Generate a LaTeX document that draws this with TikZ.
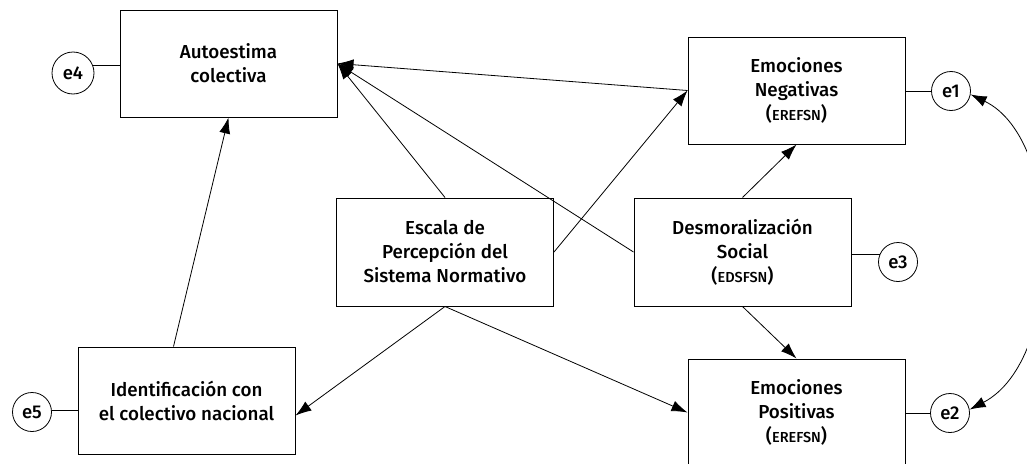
\documentclass[tikz,border=0pt]{standalone}
\usepackage{fontspec}
\setmainfont{Fira Sans}[BoldFont={Fira Sans Medium}]
\usetikzlibrary{arrows.meta,calc}
\begin{document}
\begin{tikzpicture}[x=1pt,y=-1pt,
  box/.style={draw,line width=1pt,minimum width=217pt,minimum height=107pt,align=center,
    font=\fontsize{18.8}{24}\selectfont\bfseries,inner sep=0pt},
  err/.style={draw,circle,line width=0.8pt,minimum size=39pt,inner sep=0pt,
    font=\fontsize{18.5}{20}\selectfont\bfseries},
  arr/.style={line width=0.8pt,-{Latex[length=16pt,width=11pt]}},
  con/.style={line width=0.8pt}]
\useasboundingbox (0,0) rectangle (1027,463);
\newcommand{\abbr}[1]{({\fontsize{14.5}{14.5}\selectfont #1})}
\node[box] (auto) at (228.5,63.5) {Autoestima\\colectiva};
\node[box] (eneg) at (796.5,90.5) {Emociones\\Negativas\\\abbr{EREFSN}};
\node[box,minimum height=108pt] (esc) at (445,252) {Escala de\\Percepción del\\Sistema Normativo};
\node[box,minimum height=108pt] (des) at (742.5,252) {Desmoralización\\Social\\\abbr{EDSFSN}};
\node[box] (ident) at (186.5,400.5) {Identificación con\\el colectivo nacional};
\node[box] (epos) at (796.5,412.5) {Emociones\\Positivas\\\abbr{EREFSN}};
\node[err,minimum size=42pt] (e4) at (73,73) {e4};
\node[err] (e1) at (951,91) {e1};
\node[err] (e3) at (898,262) {e3};
\node[err] (e5) at (32,412) {e5};
\node[err] (e2) at (950,413) {e2};
% error links
\draw[con] (e4.22) -- (e4.22 -| auto.west);
\draw[con] (e1.west) -- (e1.west -| eneg.east);
\draw[con] (e3.156) -- (e3.156 -| des.east);
\draw[con] (e5.5) -- (e5.5 -| ident.west);
\draw[con] (e2.west) -- (e2.west -| epos.east);
% paths
\draw[arr] (eneg.west) -- (auto.east);
\draw[arr] (esc.north) -- (auto.east);
\draw[arr] (des.west) -- (auto.east);
\draw[arr] (esc.east) -- (eneg.west);
\draw[arr] (des.north) -- (eneg.south);
\draw[arr] (des.south) -- (epos.north);
\draw[arr] (esc.south) -- ($(ident.east)+(0,15)$);
\draw[arr] (esc.south) -- (epos.west);
\draw[arr] ($(ident.north)+(-13,0)$) -- (auto.south);
\draw[line width=0.8pt,{Latex[length=16pt,width=11pt]}-{Latex[length=16pt,width=11pt]}]
  (e1.-10) .. controls (1065,140) and (1065,360) .. (e2.10);
\end{tikzpicture}
\end{document}
